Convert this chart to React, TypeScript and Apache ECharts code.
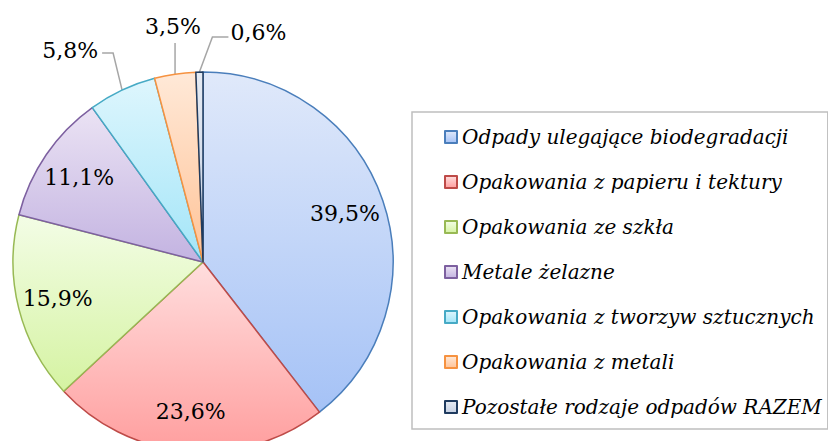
import React, { useEffect, useRef } from 'react';
import * as echarts from 'echarts';

const categories = [
  'Odpady ulegające biodegradacji',
  'Opakowania z papieru i tektury',
  'Opakowania ze szkła',
  'Metale żelazne',
  'Opakowania z tworzyw sztucznych',
  'Opakowania z metali',
  'Pozostałe rodzaje odpadów RAZEM',
];
const values = [39.5, 23.6, 15.9, 11.1, 5.8, 3.5, 0.6];
const insideLabel = [true, true, true, true, false, false, false];
const topColors = ['#e0e9fa', '#ffdede', '#f3fde6', '#ebe3f4', '#def6fd', '#ffe9d8', '#e6ebf3'];
const bottomColors = ['#a5c2f6', '#ff9e9e', '#d5f3a2', '#c3b3e1', '#a3e5f8', '#ffc397', '#c5d0e2'];
const borderColors = ['#4a7ebb', '#be4b48', '#98b954', '#7d60a0', '#46aac5', '#f69240', '#1f3b5f'];

const FONT = 'DejaVu Serif';
const fmt = (p: any) => Number(p.value).toFixed(1).replace('.', ',') + '%';

export default function App() {
  const ref = useRef<HTMLDivElement>(null);
  useEffect(() => {
    if (!ref.current) return;
    const chart = echarts.init(ref.current, undefined, { renderer: 'svg' });
    const dataA = values.map((v, i) => ({
      name: categories[i],
      value: v,
      itemStyle: {
        color: new echarts.graphic.LinearGradient(0, 0, 0, 1, [
          { offset: 0, color: topColors[i] },
          { offset: 1, color: bottomColors[i] },
        ]),
        borderColor: borderColors[i],
        borderWidth: 1.5,
      },
      label: { show: !insideLabel[i] },
      labelLine: { show: !insideLabel[i] },
    }));
    const dataB = values.map((v, i) => ({
      name: categories[i],
      value: v,
      label: { show: insideLabel[i] },
    }));

    // Leader-line shapes relative to the slice edge point given by ECharts
    const labelLayout = (p: any) => {
      const pts = p.labelLinePoints;
      if (!pts || p.seriesIndex !== 0) return {};
      const e = pts[0];
      if (p.dataIndex === 4) {
        const a = [e[0] - 9, e[1] - 37];
        const b = [a[0] - 11, a[1]];
        return { x: b[0] - 4, y: b[1] - 3, align: 'right', verticalAlign: 'middle', labelLinePoints: [e, a, b], hideOverlap: false };
      }
      if (p.dataIndex === 5) {
        const a = [e[0], e[1] - 31];
        return { x: a[0] - 2, y: a[1] - 6, align: 'center', verticalAlign: 'bottom', labelLinePoints: [e, a, a], hideOverlap: false };
      }
      if (p.dataIndex === 6) {
        const a = [e[0] + 13, e[1] - 35];
        const b = [a[0] + 16, a[1]];
        return { x: b[0] + 2, y: b[1] - 5, align: 'left', verticalAlign: 'middle', labelLinePoints: [e, a, b], hideOverlap: false };
      }
      return {};
    };

    chart.setOption({
      animation: false,
      backgroundColor: '#ffffff',
      legend: {
        orient: 'vertical',
        left: 412,
        top: 112,
        padding: [15, 6, 12, 32],
        itemGap: 25,
        itemWidth: 12,
        itemHeight: 12,
        icon: 'rect',
        borderColor: '#bfbfbf',
        borderWidth: 1.5,
        data: categories,
        textStyle: {
          fontFamily: FONT,
          fontStyle: 'italic',
          fontSize: 20,
          color: '#000',
          lineHeight: 20,
        },
      },
      series: [
        {
          type: 'pie',
          center: [203, 262],
          radius: 190,
          startAngle: 90,
          clockwise: true,
          avoidLabelOverlap: false,
          data: dataA,
          label: {
            position: 'outside',
            fontFamily: FONT,
            fontSize: 22,
            color: '#000',
            formatter: fmt,
          },
          labelLine: {
            length: 36,
            length2: 12,
            lineStyle: { color: '#a6a6a6', width: 1.5 },
          },
          labelLayout,
          emphasis: { disabled: true },
        },
        {
          type: 'pie',
          center: [203, 262],
          radius: 294,
          startAngle: 90,
          clockwise: true,
          silent: true,
          data: dataB,
          itemStyle: { color: 'rgba(0,0,0,0)', borderWidth: 0 },
          label: {
            position: 'inside',
            fontFamily: FONT,
            fontSize: 22,
            color: '#000',
            formatter: fmt,
          },
          labelLine: { show: false },
          emphasis: { disabled: true },
        },
      ],
    });
    return () => chart.dispose();
  }, []);
  return (
    <div
      ref={ref}
      style={{ position: 'fixed', left: 0, top: 0, width: 828, height: 441 }}
    />
  );
}
